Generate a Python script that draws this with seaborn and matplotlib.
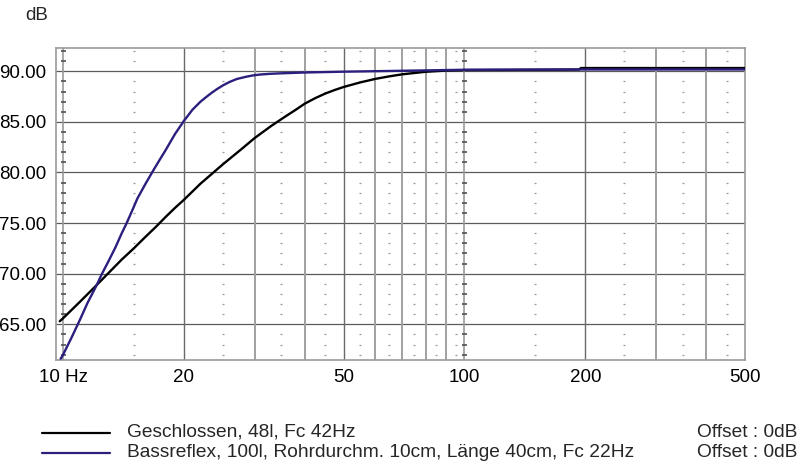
import numpy as np
import pandas as pd
import matplotlib
matplotlib.use("Agg")
import matplotlib.pyplot as plt
import seaborn as sns
from matplotlib.lines import Line2D

# ---- data ----
freq_closed = [9.81, 10, 11, 12, 13, 14, 15, 16, 17, 18, 19, 20, 22, 25, 28, 30, 33, 36,
               38, 40, 42.5, 45, 47.5, 50, 55, 60, 65, 70, 80, 90, 100, 150, 193, 195, 300, 500]
db_closed = [65.3, 65.6, 67.2, 68.7, 70.1, 71.4, 72.5, 73.6, 74.6, 75.6, 76.5, 77.3, 78.9,
             80.8, 82.4, 83.4, 84.6, 85.6, 86.2, 86.8, 87.35, 87.8, 88.15, 88.45, 88.9,
             89.25, 89.5, 89.7, 89.95, 90.07, 90.12, 90.15, 90.17, 90.32, 90.32, 90.32]

freq_bass = [9.86, 10, 10.5, 11, 11.5, 12.1, 12.5, 13, 13.5, 14, 14.4, 15, 15.3, 16, 16.8,
             17.4, 18, 19, 20, 21, 22, 22.8, 23.5, 24.2, 25, 26, 27.1, 28.5, 29.8, 31,
             32.8, 35, 40, 50, 70, 100, 200, 500]
db_bass = [61.6, 62.0, 63.7, 65.4, 67.1, 68.8, 70.0, 71.3, 72.6, 74.0, 75.0, 76.6, 77.4,
           78.8, 80.25, 81.25, 82.2, 83.8, 85.1, 86.2, 87.0, 87.5, 87.9, 88.25, 88.6,
           88.95, 89.24, 89.45, 89.6, 89.68, 89.75, 89.8, 89.88, 89.96, 90.05, 90.15,
           90.18, 90.18]

series_names = ["Geschlossen, 48l, Fc 42Hz",
                "Bassreflex, 100l, Rohrdurchm. 10cm, Länge 40cm, Fc 22Hz"]
series_colors = ["#000000", "#2b1f7e"]
offset_text = "Offset : 0dB"

x_ticks = [10, 20, 50, 100, 200, 500]
x_ticklabels = ["10 Hz", "20", "50", "100", "200", "500"]
y_ticks = [65, 70, 75, 80, 85, 90]
y_ticklabels = ["65.00", "70.00", "75.00", "80.00", "85.00", "90.00"]
grid_solid_light = [30, 40, 60, 70, 80, 90, 300, 400]
grid_solid_dark = [20, 50, 200]
grid_decade_ticked = [10, 100]
grid_dotted = [15, 25, 35, 45, 55, 65, 75, 85, 95, 150, 250, 350, 450]

# ---- build table ----
df = pd.concat([
    pd.DataFrame({"f": freq_closed, "dB": db_closed, "s": series_names[0]}),
    pd.DataFrame({"f": freq_bass, "dB": db_bass, "s": series_names[1]}),
])

sns.set_style("white")
plt.rcParams["font.family"] = ["Liberation Sans", "DejaVu Sans"]

fig = plt.figure(figsize=(8, 4.73), dpi=100)
W, H = 800, 473
ax = fig.add_axes([56 / W, 1 - 360.3 / H, (745 - 56) / W, (360.3 - 47.7) / H])
ax.set_xscale("log")
ax.set_xlim(9.6, 500)
ax.set_ylim(61.44, 92.33)

# grid
for y in y_ticks:
    ax.axhline(y, color="#5a5a5a", lw=0.9, zorder=1)
for x in grid_solid_light:
    ax.axvline(x, color="#a0a0a0", lw=1.4, zorder=1)
for x in grid_solid_dark:
    ax.axvline(x, color="#6a6a6a", lw=1.0, zorder=1)
for x in grid_decade_ticked:
    ax.axvline(x, color="#9a9a9a", lw=1.2, zorder=1)

minor_db = [d for d in range(62, 93) if d % 5 != 0]
for x in grid_dotted:
    ax.plot([x] * len(minor_db), minor_db, ls="none", marker="_", ms=1.8,
            mew=0.9, color="#9a9a9a", zorder=1)
for x in grid_decade_ticked:
    ax.plot([x] * len(minor_db), minor_db, ls="none", marker="_", ms=3.6,
            mew=1.2, color="#505050", zorder=1)

sns.lineplot(data=df, x="f", y="dB", hue="s", palette=dict(zip(series_names, series_colors)),
             estimator=None, sort=False, lw=1.7, legend=False, ax=ax, zorder=3)

ax.set_xticks(x_ticks)
ax.set_xticklabels(x_ticklabels)
ax.xaxis.set_minor_locator(matplotlib.ticker.NullLocator())
ax.set_yticks(y_ticks)
ax.set_yticklabels(y_ticklabels)
ax.tick_params(axis="both", length=0, labelsize=13.5, colors="#000000")
ax.tick_params(axis="x", pad=6)
ax.tick_params(axis="y", pad=7)
ax.set_xlabel("")
ax.set_ylabel("")
for sp in ax.spines.values():
    sp.set_color("#9a9a9a")
    sp.set_linewidth(1.2)

fig.text(25 / W, 1 - 16 / H, "dB", fontsize=13.5, va="center", ha="left")

# legend below
rows_line_y = [433, 453]
rows_text_y = [436.5, 456.5]
for name, col, ly, ty in zip(series_names, series_colors, rows_line_y, rows_text_y):
    fig.add_artist(Line2D([42 / W, 110 / W], [1 - ly / H, 1 - ly / H], color=col, lw=1.6))
    fig.text(127 / W, 1 - ty / H, name, fontsize=13.8, va="baseline", ha="left")
    fig.text(797 / W, 1 - ty / H, offset_text, fontsize=13.8, va="baseline", ha="right")

fig.savefig("out.png", dpi=100)
